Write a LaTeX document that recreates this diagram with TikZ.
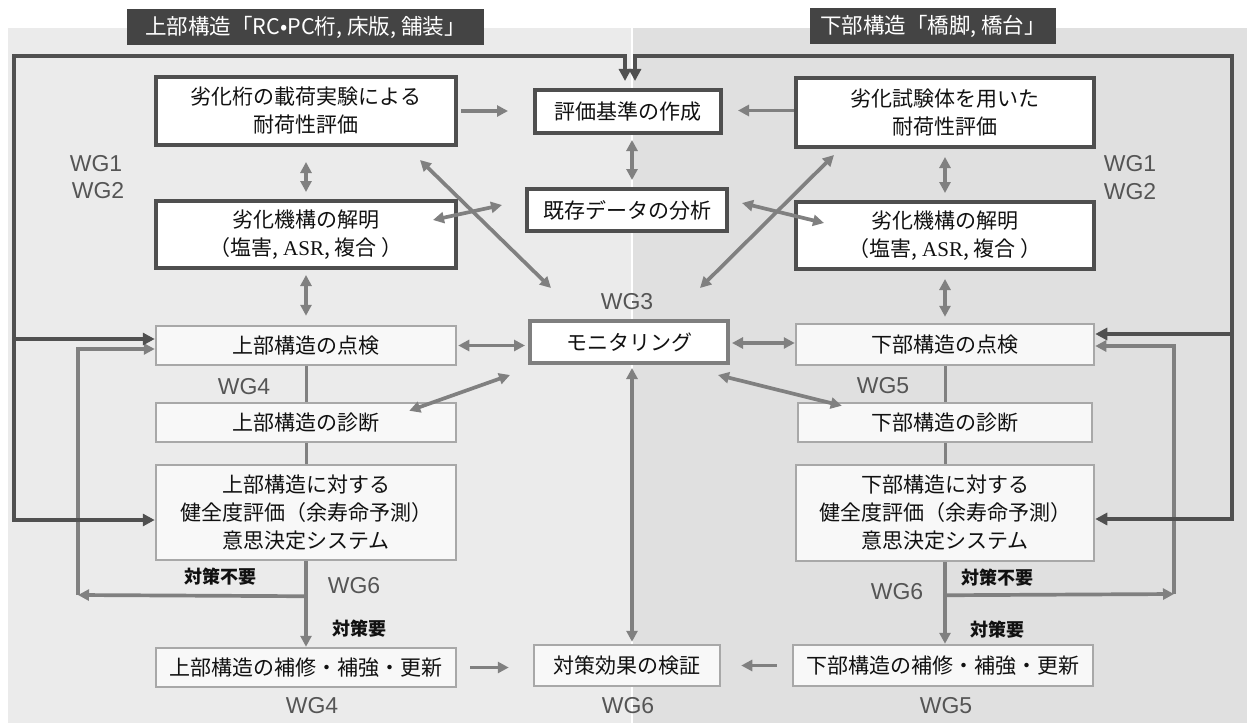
\documentclass[tikz,border=0pt]{standalone}
\usepackage{fontspec}
\setmainfont{Noto Sans CJK JP}
\newfontfamily\wgfont{Liberation Sans}
\newfontfamily\asrfont{Liberation Serif}
\usetikzlibrary{arrows.meta,calc}
\definecolor{panelL}{HTML}{EBEBEB}
\definecolor{panelR}{HTML}{E0E0E0}
\definecolor{titlebg}{HTML}{444444}
\definecolor{dkborder}{HTML}{4F4F4F}
\definecolor{midborder}{HTML}{7F7F7F}
\definecolor{ltborder}{HTML}{A8A8A8}
\definecolor{ltfill}{HTML}{F8F8F8}
\definecolor{arrgray}{HTML}{808080}
\definecolor{loopgray}{HTML}{505050}
\definecolor{wggray}{HTML}{555555}
\definecolor{txt}{HTML}{111111}
\begin{document}
\begin{tikzpicture}[x=1pt,y=-1pt,
  boxtext/.style={font=\fontsize{21}{28}\selectfont, text=txt, align=center, inner sep=0pt},
  darkbox/.style={boxtext, draw=dkborder, line width=4pt, fill=white},
  lightbox/.style={boxtext, draw=ltborder, line width=2.5pt, fill=ltfill},
  garrow/.style={draw=arrgray, line width=3.7pt, -{Triangle[length=11pt,width=11pt]}},
  gdarrow/.style={draw=arrgray, line width=3.7pt, {Triangle[length=11pt,width=11pt]}-{Triangle[length=11pt,width=11pt]}},
  gline/.style={draw=arrgray, line width=3pt},
  dloop/.style={draw=loopgray, line width=4pt, line cap=rect, -{Triangle[length=12pt,width=12pt]}},
  wglab/.style={font=\wgfont\fontsize{23}{23}\selectfont, text=wggray, inner sep=0pt},
  smalllab/.style={font=\bfseries\fontsize{18}{18}\selectfont, text=txt, inner sep=0pt},
  titlebox/.style={fill=titlebg, text=white, font=\fontsize{21.5}{21.5}\selectfont, inner sep=0pt, minimum height=36pt}
]
\useasboundingbox (0,0) rectangle (1247,725);
% panels
\fill[panelL] (8,28) rectangle (631,723);
\fill[panelR] (633,28) rectangle (1247,723);
% titles
\node[titlebox, minimum width=357pt] (titleL) at (305.5,27) {上部構造「RC•PC桁, 床版, 舗装」};
\node[titlebox, minimum width=246pt] (titleR) at (933,26) {下部構造「橋脚, 橋台」};

% left column
\node[darkbox, minimum width=300pt, minimum height=68pt] (degL) at (306,111) {劣化桁の載荷実験による\\耐荷性評価};
\node[darkbox, minimum width=300pt, minimum height=67pt] (mechL) at (306,234.5) {劣化機構の解明\\（塩害, {\asrfont ASR}, 複合 ）};
\node[lightbox, minimum width=300pt, minimum height=39pt] (inspL) at (306,345.5) {上部構造の点検};
\node[lightbox, minimum width=300pt, minimum height=39pt] (diagL) at (306,422.5) {上部構造の診断};
\node[lightbox, minimum width=300pt, minimum height=95pt] (decL) at (306,512.5) {上部構造に対する\\健全度評価（余寿命予測）\\意思決定システム};
\node[lightbox, minimum width=300pt, minimum height=39pt] (repL) at (306,667.5) {上部構造の補修・補強・更新};

% center column
\node[darkbox, minimum width=186pt, minimum height=43pt] (hyoka) at (628,111.5) {評価基準の作成};
\node[darkbox, minimum width=200pt, minimum height=42pt] (exist) at (627,210) {既存データの分析};
\node[darkbox, draw=midborder, minimum width=198pt, minimum height=42pt] (moni) at (629,342) {モニタリング};
\node[lightbox, minimum width=186pt, minimum height=41pt] (effect) at (627,665.5) {対策効果の検証};

% right column
\node[darkbox, minimum width=298pt, minimum height=69pt] (degR) at (945,112.5) {劣化試験体を用いた\\耐荷性評価};
\node[darkbox, minimum width=298pt, minimum height=67pt] (mechR) at (945,235.5) {劣化機構の解明\\（塩害, {\asrfont ASR}, 複合 ）};
\node[lightbox, minimum width=298pt, minimum height=41pt] (inspR) at (945,344.5) {下部構造の点検};
\node[lightbox, minimum width=294pt, minimum height=39pt] (diagR) at (945,422.5) {下部構造の診断};
\node[lightbox, minimum width=298pt, minimum height=96pt] (decR) at (945,513) {下部構造に対する\\健全度評価（余寿命予測）\\意思決定システム};
\node[lightbox, minimum width=300pt, minimum height=41pt] (repR) at (943,665.5) {下部構造の補修・補強・更新};

% labels
\node[wglab] (wg1L) at (96,164) {WG1};
\node[wglab] (wg2L) at (98,191) {WG2};
\node[wglab] (wg1R) at (1130,164) {WG1};
\node[wglab] (wg2R) at (1130,192) {WG2};
\node[wglab] (wg3) at (627,302) {WG3};
\node[wglab] (wg4m) at (244,387) {WG4};
\node[wglab] (wg5m) at (883,386) {WG5};
\node[wglab] (wg6L) at (354,586) {WG6};
\node[wglab] (wg6R) at (897,592) {WG6};
\node[wglab] (wg4b) at (312,706) {WG4};
\node[wglab] (wg6b) at (628,706) {WG6};
\node[wglab] (wg5b) at (946,706) {WG5};
\node[smalllab] (noneedL) at (220,577) {対策不要};
\node[smalllab] (needL) at (359,629) {対策要};
\node[smalllab] (noneedR) at (997,578) {対策不要};
\node[smalllab] (needR) at (997,630) {対策要};

% ---------- left connectors
\draw[garrow] ($(degL.east)+(3,0)$) -- ($(degL.east -| hyoka.west)+(-25,0)$);
\draw[gdarrow] ($(degL.south east)+(-38,13)$) -- ($(moni.north west)+(23,-31)$);
\draw[gdarrow] ($(mechL.east)+(-25,-14.5)$) -- ($(exist.west)+(-23,-5)$);
\draw[gdarrow] ($(degL.south)+(0,15)$) -- ($(mechL.north)+(0,-7)$);
\draw[gdarrow] ($(mechL.south)+(0,5)$) -- ($(inspL.north)+(0,-9)$);
\draw[gline] (inspL.south) -- (diagL.north);
\draw[gline] (diagL.south) -- (decL.north);
\draw[garrow] (decL.south) -- (repL.north);
\draw[gdarrow] ($(inspL.east)+(1,0)$) -- ($(inspL.east -| moni.west)+(-3,0)$);
\draw[gdarrow] ($(diagL.north east)+(-48,9)$) -- ($(moni.south west)+(-18,10)$);
\draw[garrow] ($(repL.east)+(13,0)$) -- ($(repL.east -| effect.west)+(-24,0)$);
\coordinate (jL) at ($(decL.south)+(0,35)$);
\coordinate (cL) at (78,595);
\draw[garrow] (jL) -- (cL);
\draw[garrow] (cL) |- ($(inspL.west)+(0,3.5)$);

% ---------- center connectors
\draw[gdarrow] ($(hyoka.south)+(4,5)$) -- ($(exist.north)+(5,-7)$);
\draw[gdarrow] ($(moni.south)+(3,3)$) -- ($(effect.north)+(5,-2)$);

% ---------- right connectors
\draw[garrow] ($(degR.west)+(0,-2)$) -- ($(degR.west -| hyoka.east)+(15,-2)$);
\draw[gdarrow] ($(degR.south west)+(40,6)$) -- ($(moni.north east)+(-30,-31)$);
\draw[gdarrow] ($(exist.east)+(13,-7)$) -- ($(mechR.west)+(30,-12.5)$);
\draw[gdarrow] ($(degR.south)+(0,8)$) -- ($(mechR.north)+(0,-7)$);
\draw[gdarrow] ($(mechR.south)+(0,8)$) -- ($(inspR.north)+(0,-6)$);
\draw[gdarrow] ($(moni.east)+(2,1)$) -- ($(moni.east -| inspR.west)+(0,1)$);
\draw[gdarrow] ($(moni.south east)+(-12,10)$) -- ($(diagR.north west)+(45,4)$);
\draw[gline] (inspR.south) -- (diagR.north);
\draw[gline] (diagR.south) -- (decR.north);
\draw[garrow] (decR.south) -- (decR.south |- repR.north);
\draw[garrow] ($(repR.west)+(-15,0)$) -- ($(repR.west -| effect.east)+(20,0)$);
\coordinate (jR) at ($(decR.south)+(0,33)$);
\coordinate (cR) at (1174,594);
\draw[garrow] (jR) -- (cR);
\draw[garrow] (cR) |- ($(inspR.east)+(0,1.5)$);

% ---------- outer loops
\coordinate (lpL) at (14,520);
\coordinate (lpR) at (1232,519);
\draw[dloop] (lpL) |- ($(hyoka.north)+(-3,-32)$) -- ($(hyoka.north)+(-3,-7)$);
\draw[dloop] (lpR) |- ($(hyoka.north)+(7,-32)$) -- ($(hyoka.north)+(7,-7)$);
\draw[dloop] ($(inspL.west -| lpL)+(0,-6.5)$) -- ($(inspL.west)+(0,-6.5)$);
\draw[dloop] (lpL) -- (lpL -| decL.west);
\draw[dloop] ($(inspR.east -| lpR)+(0,-10.5)$) -- ($(inspR.east)+(0,-10.5)$);
\draw[dloop] (lpR) -- (lpR -| decR.east);
\end{tikzpicture}
\end{document}
